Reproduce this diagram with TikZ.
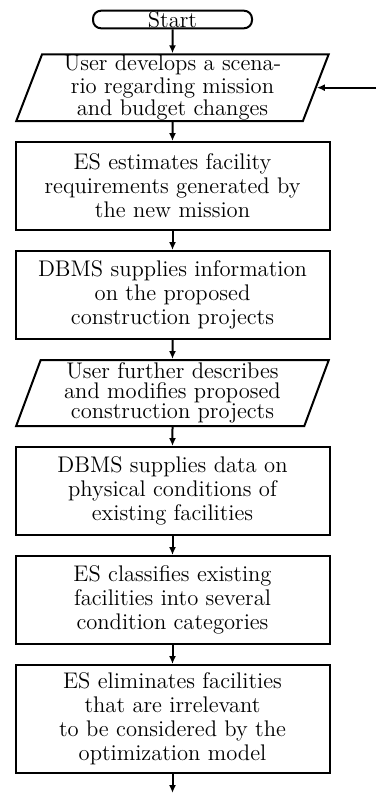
\documentclass[tikz,border=0pt]{standalone}
\usepackage{tikz}
\usetikzlibrary{positioning,shapes.geometric,arrows.meta}

\begin{document}
\begin{tikzpicture}[
  node distance=9.5pt,
  every node/.style={font=\fontsize{11.3}{12}\selectfont},
  termbox/.style={draw, line width=1pt, rounded corners=4pt, minimum width=79.5pt, minimum height=8.5pt, inner sep=0.3pt},
  iobox/.style={draw, line width=1pt, trapezium, trapezium left angle=72, trapezium right angle=108, trapezium stretches=true, minimum width=156.5pt, minimum height=33pt, inner sep=0.5pt, align=center, font=\fontsize{11.3}{10}\selectfont},
  stepbox/.style={draw, line width=1pt, minimum width=157pt, minimum height=44pt, align=center, inner sep=2pt},
  arrow/.style={-{Latex[length=4pt,width=3.5pt]}, line width=1pt}
]
\useasboundingbox (0,0) rectangle (188pt,-396.5pt);

\node[termbox] (start) at (86.25pt,-9.75pt) {Start};
\node[iobox, below=12pt of start] (scen) {User develops a scena-\\rio regarding mission\\and budget changes};
\node[stepbox, below=of scen] (need) {ES estimates facility\\requirements generated by\\the new mission};
\node[stepbox, below=of need] (proj) {DBMS supplies information\\on the proposed\\construction projects};
\node[iobox, below=of proj] (modif) {User further describes\\and modifies proposed\\construction projects};
\node[stepbox, below=of modif] (cond) {DBMS supplies data on\\physical conditions of\\existing facilities};
\node[stepbox, below=of cond] (classify) {ES classifies existing\\facilities into several\\condition categories};
\node[stepbox, below=of classify, minimum height=54pt] (elim) {ES eliminates facilities\\that are irrelevant\\to be considered by the\\optimization model};

% loop back in from the right, and on to the next stage
\coordinate (back) at (188pt,0 |- scen.east);
\coordinate (out) at (elim.south |- 0,-396.5pt);

\draw[arrow] (start) -- (scen);
\draw[arrow] (back) -- (scen.east);
\draw[arrow] (scen) -- (need);
\draw[arrow] (need) -- (proj);
\draw[arrow] (proj) -- (modif);
\draw[arrow] (modif) -- (cond);
\draw[arrow] (cond) -- (classify);
\draw[arrow] (classify) -- (elim);
\draw[arrow] (elim) -- (out);
\end{tikzpicture}
\end{document}
